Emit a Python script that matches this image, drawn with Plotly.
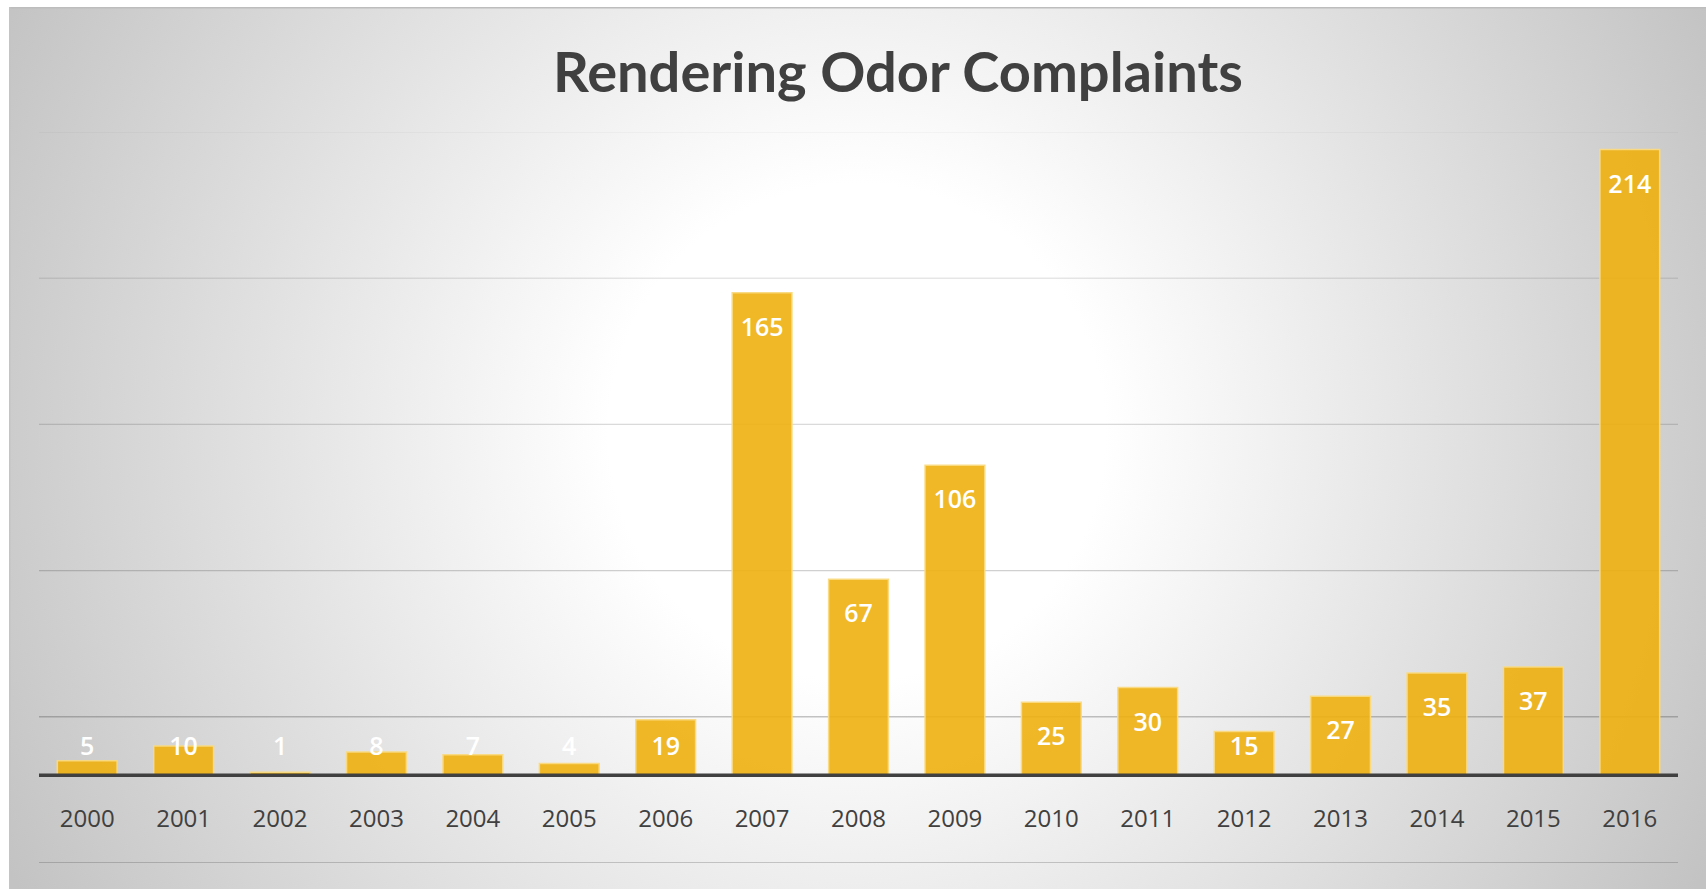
import base64
import plotly.graph_objects as go

# ---- data ----
years = ["2000", "2001", "2002", "2003", "2004", "2005", "2006", "2007", "2008",
         "2009", "2010", "2011", "2012", "2013", "2014", "2015", "2016"]
complaints = [5, 10, 1, 8, 7, 4, 19, 165, 67, 106, 25, 30, 15, 27, 35, 37, 214]
title_text = "Rendering Odor Complaints"
grid_values = [-30, 20, 70, 120, 170, 220]

# ---- styles ----
grid_alpha = [0.33, 0.30, 0.24, 0.19, 0.13, 0.05]
W, H = 1706, 889
L, R, T, B = 39, 28, 132, 26
PW, PH = W - L - R, H - T - B

svg = '''<svg xmlns="http://www.w3.org/2000/svg" width="1697" height="882" viewBox="0 0 1697 882" preserveAspectRatio="none">
<defs><radialGradient id="g" gradientUnits="userSpaceOnUse" cx="848" cy="425" r="955">
<stop offset="0" stop-color="#ffffff"/><stop offset="0.26" stop-color="#ffffff"/>
<stop offset="1" stop-color="#c3c3c3"/></radialGradient></defs>
<rect x="0" y="0" width="1697" height="882" fill="url(#g)"/>
<line x1="0" y1="0.75" x2="1697" y2="0.75" stroke="#bdbdbd" stroke-width="1.5"/>
<line x1="0.75" y1="0" x2="0.75" y2="882" stroke="#c4c4c4" stroke-width="1.5"/>
</svg>'''
bg_src = "data:image/svg+xml;base64," + base64.b64encode(svg.encode()).decode()

fig = go.Figure()

fig.add_trace(go.Bar(
    x=years, y=complaints,
    marker=dict(color="rgba(238,176,15,0.9)",
                line=dict(color="rgba(250,218,130,0.95)", width=1.5)),
    hoverinfo="x+y", showlegend=False,
))

# value labels (inside end, clamped for short bars)
label_y = [max(v - 12.6, 9.0) for v in complaints]
fig.add_trace(go.Scatter(
    x=years, y=label_y, mode="text", text=[str(v) for v in complaints],
    textposition="middle center",
    textfont=dict(family="Open Sans", size=25, color="white", weight=600),
    hoverinfo="skip", showlegend=False,
))

# category labels
fig.add_trace(go.Scatter(
    x=years, y=[-15.5] * len(years), mode="text", text=years,
    textposition="middle center",
    textfont=dict(family="Open Sans", size=24, color="#404040"),
    hoverinfo="skip", showlegend=False,
))

shapes = []
for gv, a in zip(grid_values, grid_alpha):
    shapes.append(dict(type="line", xref="paper", yref="y", x0=0, x1=1, y0=gv, y1=gv,
                       line=dict(color=f"rgba(60,60,60,{a})", width=1.4), layer="below"))
shapes.append(dict(type="line", xref="paper", yref="y", x0=0, x1=1, y0=0, y1=0,
                   line=dict(color="#404040", width=3.5), layer="above"))

fig.update_layout(
    width=W, height=H, autosize=False,
    margin=dict(l=L, r=R, t=T, b=B, pad=0),
    paper_bgcolor="white", plot_bgcolor="rgba(0,0,0,0)",
    bargap=0.38,
    xaxis=dict(type="category", range=[-0.5, len(years) - 0.5], showgrid=False,
               zeroline=False, showticklabels=False, showline=False, ticks=""),
    yaxis=dict(range=[-30, 220], showgrid=False, zeroline=False, showticklabels=False,
               showline=False, ticks=""),
    shapes=shapes,
    images=[dict(source=bg_src, xref="paper", yref="paper",
                 x=(9 - L) / PW, y=(H - B - 7) / PH,
                 sizex=1697 / PW, sizey=882 / PH,
                 xanchor="left", yanchor="top", sizing="stretch", layer="below")],
    annotations=[dict(text=f"<b>{title_text}</b>", xref="paper", yref="paper",
                      x=(898 - L) / PW, y=(H - B - 70) / PH,
                      xanchor="center", yanchor="middle", showarrow=False,
                      font=dict(family="Lato", size=56, color="#404040"))],
)

fig.write_html("out.html", include_plotlyjs=True,
               config={"displayModeBar": False},
               post_script="document.body.style.margin='0';document.body.style.overflow='hidden';")
